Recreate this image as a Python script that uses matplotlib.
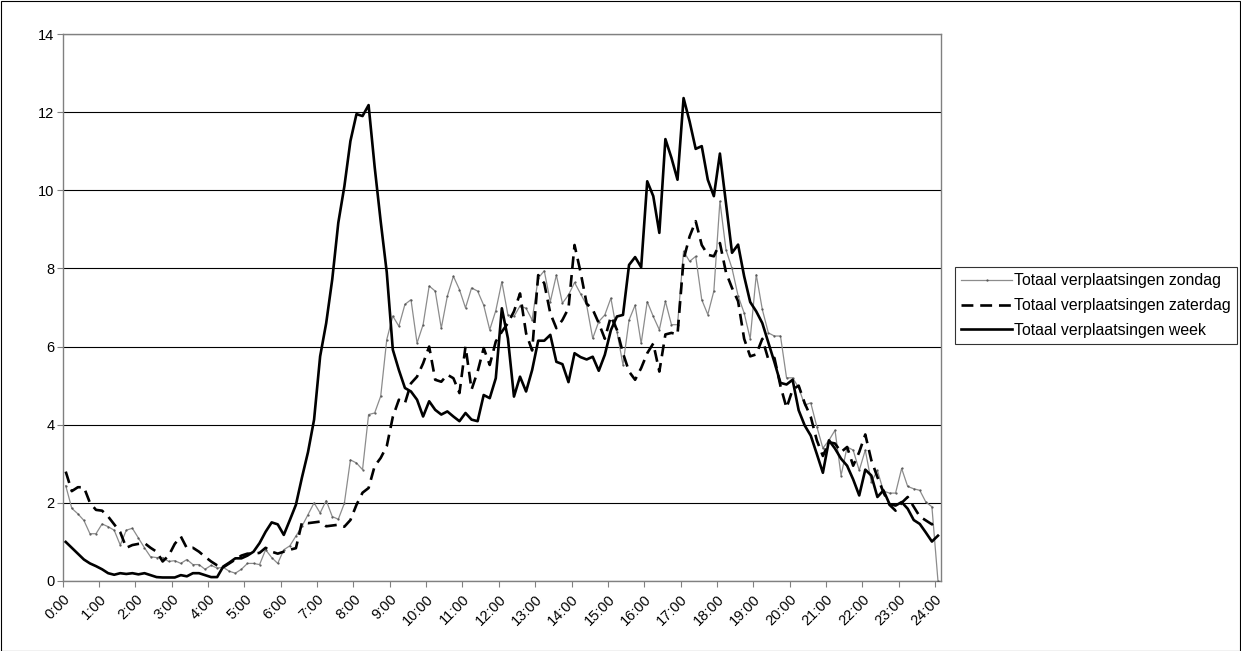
import matplotlib
matplotlib.use("Agg")
import matplotlib.pyplot as plt
from matplotlib.patches import Rectangle

plt.rcParams['font.family'] = ['Liberation Sans', 'DejaVu Sans']

# 10-minute intervals, 0:00 .. 24:00
tick_labels = [f"{h}:00" for h in range(25)]

zondag = [2.44, 1.86, 1.72, 1.55, 1.21, 1.21, 1.46, 1.39, 1.3, 0.92,
          1.3, 1.35, 1.1, 0.85, 0.62, 0.6, 0.6, 0.5, 0.52, 0.45,
          0.55, 0.42, 0.42, 0.3, 0.4, 0.33, 0.35, 0.25, 0.2, 0.3,
          0.45, 0.45, 0.42, 0.8, 0.6, 0.45, 0.8, 0.9, 1.15, 1.4,
          1.7, 2.0, 1.74, 2.06, 1.65, 1.58, 1.99, 3.1, 3.02, 2.85,
          4.26, 4.3, 4.73, 6.18, 6.78, 6.52, 7.08, 7.2, 6.09, 6.56,
          7.55, 7.42, 6.47, 7.29, 7.8, 7.46, 6.99, 7.5, 7.42, 7.06,
          6.43, 6.92, 7.66, 6.81, 6.77, 7.04, 6.98, 6.68, 7.75, 7.94,
          7.15, 7.83, 7.11, 7.32, 7.64, 7.35, 7.06, 6.21, 6.64, 6.81,
          7.24, 6.38, 5.53, 6.68, 7.06, 6.08, 7.15, 6.77, 6.43, 7.16,
          6.56, 6.56, 8.44, 8.18, 8.31, 7.2, 6.82, 7.42, 9.72, 8.48,
          8.0, 7.3, 6.86, 6.2, 7.84, 6.95, 6.35, 6.27, 6.27, 5.2,
          5.2, 4.95, 4.5, 4.56, 3.95, 3.4, 3.6, 3.86, 2.7, 3.43,
          3.35, 2.83, 3.35, 2.53, 2.83, 2.3, 2.25, 2.25, 2.88, 2.42,
          2.36, 2.32, 2.02, 1.9, 0.0]

zaterdag = [2.8, 2.3, 2.4, 2.4, 2.0, 1.82, 1.8, 1.65, 1.45, 1.25,
            0.85, 0.92, 0.95, 0.97, 0.85, 0.75, 0.5, 0.65, 0.95, 1.14,
            0.84, 0.85, 0.75, 0.62, 0.5, 0.4, 0.35, 0.45, 0.55, 0.65,
            0.7, 0.7, 0.72, 0.85, 0.75, 0.7, 0.75, 0.8, 0.84, 1.5,
            1.48, 1.5, 1.52, 1.4, 1.42, 1.44, 1.39, 1.56, 1.95, 2.26,
            2.38, 2.94, 3.15, 3.45, 4.2, 4.64, 4.55, 5.06, 5.23, 5.57,
            6.0, 5.15, 5.1, 5.28, 5.19, 4.81, 6.0, 4.9, 5.36, 5.96,
            5.53, 6.13, 6.38, 6.6, 6.9, 7.36, 6.34, 5.9, 7.83, 7.62,
            6.85, 6.47, 6.68, 6.98, 8.6, 7.9, 7.1, 6.95, 6.6, 6.2,
            6.77, 6.43, 5.83, 5.36, 5.15, 5.45, 5.83, 6.08, 5.36, 6.31,
            6.35, 6.31, 8.23, 8.82, 9.21, 8.6, 8.35, 8.31, 8.65, 7.9,
            7.5, 7.16, 6.2, 5.75, 5.8, 6.2, 5.67, 5.71, 4.99, 4.43,
            4.9, 5.0, 4.55, 4.2, 3.6, 3.2, 3.55, 3.52, 3.3, 3.43,
            2.95, 3.3, 3.75, 3.09, 2.66, 2.27, 1.95, 1.8, 2.0, 2.15,
            1.9, 1.65, 1.55, 1.45, 1.52]

week = [1.0, 0.85, 0.7, 0.55, 0.45, 0.38, 0.3, 0.2, 0.16, 0.2,
        0.18, 0.2, 0.17, 0.2, 0.15, 0.1, 0.09, 0.09, 0.09, 0.15,
        0.12, 0.2, 0.2, 0.15, 0.1, 0.1, 0.37, 0.47, 0.58, 0.58,
        0.65, 0.75, 0.97, 1.26, 1.5, 1.45, 1.18, 1.56, 1.95, 2.65,
        3.3, 4.13, 5.75, 6.6, 7.72, 9.17, 10.1, 11.26, 11.95, 11.9,
        12.18, 10.6, 9.2, 7.9, 5.92, 5.4, 4.94, 4.85, 4.64, 4.21,
        4.6, 4.38, 4.26, 4.34, 4.21, 4.09, 4.3, 4.13, 4.09, 4.76,
        4.68, 5.19, 6.98, 6.21, 4.72, 5.23, 4.85, 5.4, 6.15, 6.15,
        6.3, 5.61, 5.55, 5.09, 5.83, 5.73, 5.67, 5.74, 5.38, 5.79,
        6.42, 6.77, 6.81, 8.09, 8.29, 8.03, 10.23, 9.85, 8.91, 11.31,
        10.83, 10.27, 12.36, 11.76, 11.06, 11.13, 10.27, 9.85, 10.94, 9.68,
        8.4, 8.61, 7.8, 7.14, 6.9, 6.6, 6.1, 5.6, 5.07, 5.03,
        5.15, 4.37, 3.98, 3.72, 3.25, 2.77, 3.6, 3.39, 3.13, 2.95,
        2.6, 2.19, 2.85, 2.7, 2.15, 2.32, 1.97, 1.93, 2.02, 1.85,
        1.56, 1.46, 1.24, 1.01, 1.16]

series_names = ["Totaal verplaatsingen zondag",
                "Totaal verplaatsingen zaterdag",
                "Totaal verplaatsingen week"]

W, H = 1241, 651
fig = plt.figure(figsize=(W / 100, H / 100), dpi=100)
ax = fig.add_axes([62.7 / W, 1 - 581 / H, (941 - 62.7) / W, (581 - 34) / H])

x = list(range(len(week)))
l1, = ax.plot(x, zondag, color='#8c8c8c', lw=0.9, marker='.', ms=1.2,
              mfc='#555555', mec='#555555', label=series_names[0], zorder=3)
l2, = ax.plot(x, zaterdag, color='black', lw=1.9, linestyle=(0, (4.5, 2.6)),
              label=series_names[1], zorder=4)
l3, = ax.plot(x, week, color='black', lw=1.9, label=series_names[2], zorder=5)

ax.set_xlim(-0.5, len(week) - 0.5)
ax.set_ylim(0, 14)
ax.set_yticks(range(0, 15, 2))
ax.yaxis.grid(True, color='black', lw=0.8)
ax.set_axisbelow(True)

tick_pos = [6 * i - 0.5 for i in range(len(tick_labels))]
ax.set_xticks(tick_pos)
ax.set_xticklabels(tick_labels, rotation=45, ha='right', va='top',
                   rotation_mode='anchor', fontsize=10.5)
ax.tick_params(axis='both', direction='out', length=4, color='#808080',
               width=0.8, pad=2)
ax.tick_params(axis='y', labelsize=10.5)
ax.tick_params(axis='x', pad=4)
for s in ax.spines.values():
    s.set_color('#808080')
    s.set_linewidth(1.0)

leg = fig.legend(handles=[l1, l2, l3], loc='upper left',
                 bbox_to_anchor=(955 / W, 1 - 267 / H),
                 bbox_transform=fig.transFigure, frameon=True, fancybox=False,
                 edgecolor='black', fontsize=11.4, handlelength=3.2,
                 handletextpad=0.1, labelspacing=0.62, borderpad=0.4,
                 borderaxespad=0)
leg.get_frame().set_linewidth(0.8)

fig.patches.append(Rectangle((0.5 / W, 0.5 / H), 1 - 1.5 / W, 1 - 1.5 / H,
                             transform=fig.transFigure, fill=False,
                             edgecolor='black', lw=0.8))

fig.savefig('out.png', dpi=100)
